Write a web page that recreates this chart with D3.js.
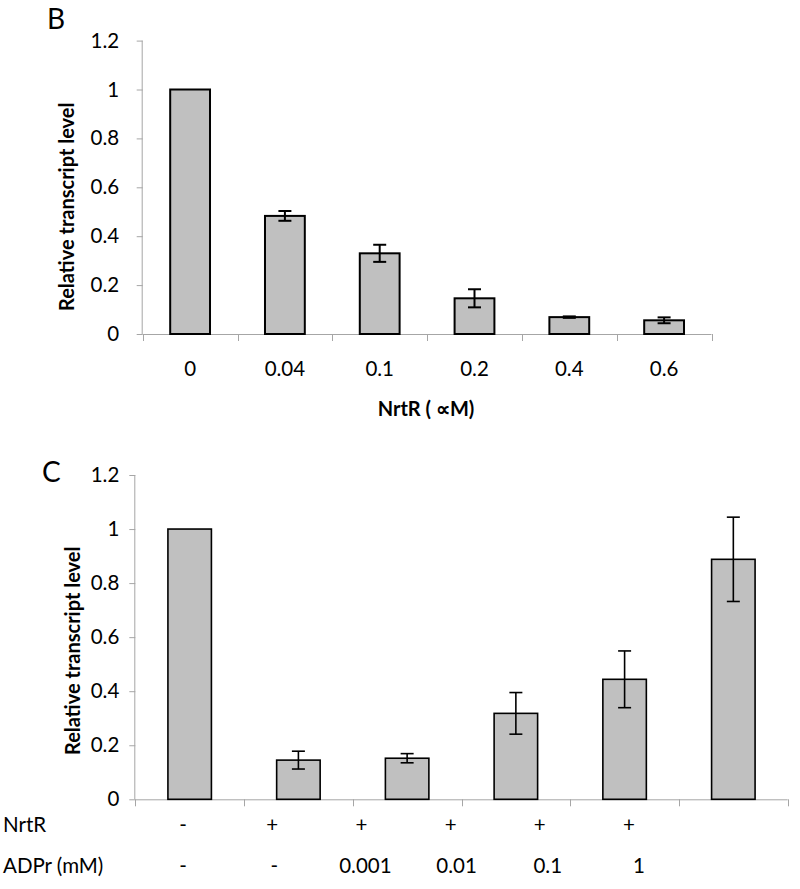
<!DOCTYPE html>
<html>
<head>
<meta charset="utf-8">
<script src="https://cdn.jsdelivr.net/npm/d3@7"></script>
<style>
  html, body { margin: 0; padding: 0; background: #fff; }
  svg { display: block; }
  text { font-family: Lato, "Open Sans", sans-serif; fill: #000; }
</style>
</head>
<body>
<svg id="chart" width="800" height="889"></svg>
<script>
// ---- Data ----
const bCategories = ["0", "0.04", "0.1", "0.2", "0.4", "0.6"];
const bValues = [1, 0.483, 0.33, 0.146, 0.069, 0.056];
const bErrors = [0, 0.02, 0.035, 0.037, 0.003, 0.012];

const cCategories = ["c1", "c2", "c3", "c4", "c5", "c6"];
const cValues = [1, 0.145, 0.152, 0.318, 0.444, 0.888];
const cErrors = [0, 0.033, 0.017, 0.077, 0.105, 0.156];

const yTicks = [0, 0.2, 0.4, 0.6, 0.8, 1, 1.2];
const nrtrLabels = ["-", "+", "+", "+", "+", "+"];
const adprLabels = ["-", "-", "0.001", "0.01", "0.1", "1"];

const svg = d3.select("#chart");
const axisColor = "#a6a6a6";
const FS = 20.5;   // regular text size
const FSB = 20;    // bold title size

function panel(opts) {
  const { left, right, top, bottom, cats, vals, errs, barRatio, strokeW } = opts;
  const g = svg.append("g");
  const x = d3.scaleBand().domain(cats).range([left, right]).padding(0);
  const y = d3.scaleLinear().domain([0, 1.2]).range([bottom, top]);

  // Y axis
  const yAxis = d3.axisLeft(y).tickValues(yTicks)
    .tickFormat(d => d3.format("~g")(d)).tickSize(6).tickPadding(opts.yPad);
  const ya = g.append("g").attr("transform", `translate(${left},0)`).call(yAxis);
  ya.select(".domain").attr("stroke", axisColor).attr("d", `M-0.5,${top}V${bottom}`);
  ya.selectAll(".tick line").attr("stroke", axisColor);
  ya.selectAll(".tick text").attr("font-size", FS).attr("font-family", "Lato, sans-serif").attr("fill", "#000");

  // X axis baseline and boundary ticks
  g.append("line").attr("x1", left).attr("x2", right).attr("y1", bottom + 0.5).attr("y2", bottom + 0.5)
    .attr("stroke", axisColor);
  const bounds = cats.map(c => x(c)).concat([right]);
  g.selectAll(".xt").data(bounds).join("line")
    .attr("x1", d => Math.round(d) + 0.5).attr("x2", d => Math.round(d) + 0.5)
    .attr("y1", bottom).attr("y2", bottom + 7).attr("stroke", axisColor);

  // Bars
  const bw = x.bandwidth() * barRatio;
  g.selectAll(".bar").data(cats).join("rect")
    .attr("x", (c) => x(c) + (x.bandwidth() - bw) / 2)
    .attr("y", (c, i) => y(vals[i]))
    .attr("width", bw)
    .attr("height", (c, i) => y(0) - y(vals[i]))
    .attr("fill", "#c0c0c0").attr("stroke", "#000").attr("stroke-width", strokeW);

  // Error bars
  const cap = 6.5;
  cats.forEach((c, i) => {
    if (!errs[i]) return;
    const cx = x(c) + x.bandwidth() / 2;
    const y1 = y(vals[i] + errs[i]), y2 = y(vals[i] - errs[i]);
    const eg = g.append("g").attr("stroke", "#000").attr("stroke-width", strokeW);
    eg.append("line").attr("x1", cx).attr("x2", cx).attr("y1", y1).attr("y2", y2);
    eg.append("line").attr("x1", cx - cap).attr("x2", cx + cap).attr("y1", y1).attr("y2", y1);
    eg.append("line").attr("x1", cx - cap).attr("x2", cx + cap).attr("y1", y2).attr("y2", y2);
  });
  return { x, y, g };
}

// ---- Panel B ----
const B = panel({ left: 142.7, right: 711.5, top: 40.6, bottom: 334, cats: bCategories,
  vals: bValues, errs: bErrors, barRatio: 0.42, strokeW: 2, yPad: 17.5 });
B.g.selectAll(".xl").data(bCategories).join("text")
  .attr("x", d => B.x(d) + B.x.bandwidth() / 2).attr("y", 369)
  .attr("dy", "0.35em").attr("text-anchor", "middle").attr("font-size", FS)
  .text(d => d);
svg.append("text").attr("x", 426).attr("y", 409).attr("dy", "0.35em")
  .attr("text-anchor", "middle").attr("font-size", FSB).attr("font-weight", "bold")
  .text("NrtR ( \u221DM)");
svg.append("text").attr("transform", "translate(67,311) rotate(-90)")
  .attr("dy", "0.35em").attr("text-anchor", "start").attr("font-size", FSB).attr("font-weight", "bold")
  .text("Relative transcript level");
svg.append("text").attr("x", 47).attr("y", 19).attr("dy", "0.35em").attr("font-size", 28).text("B");

// ---- Panel C ----
const C = panel({ left: 135.3, right: 787.7, top: 475, bottom: 799.3, cats: cCategories,
  vals: cValues, errs: cErrors, barRatio: 0.4, strokeW: 1.6, yPad: 10 });
svg.append("text").attr("transform", "translate(73,755) rotate(-90)")
  .attr("dy", "0.35em").attr("text-anchor", "start").attr("font-size", FSB).attr("font-weight", "bold")
  .text("Relative transcript level");
svg.append("text").attr("x", 42).attr("y", 472).attr("dy", "0.35em").attr("font-size", 28).text("C");

const nx = d3.scalePoint().domain(d3.range(nrtrLabels.length)).range([183, 629]);
const ax = d3.scalePoint().domain(d3.range(adprLabels.length)).range([183, 639]);
svg.append("text").attr("x", 3).attr("y", 825).attr("dy", "0.35em").attr("font-size", FS).text("NrtR");
svg.append("text").attr("x", 3).attr("y", 866).attr("dy", "0.35em").attr("font-size", FS).text("ADPr (mM)");
svg.selectAll(".nl").data(nrtrLabels).join("text")
  .attr("x", (d, i) => nx(i)).attr("y", 825).attr("dy", "0.35em")
  .attr("text-anchor", "middle").attr("font-size", FS).text(d => d);
svg.selectAll(".al").data(adprLabels).join("text")
  .attr("x", (d, i) => ax(i)).attr("y", 866).attr("dy", "0.35em")
  .attr("text-anchor", "middle").attr("font-size", FS).text(d => d);
</script>
</body>
</html>
